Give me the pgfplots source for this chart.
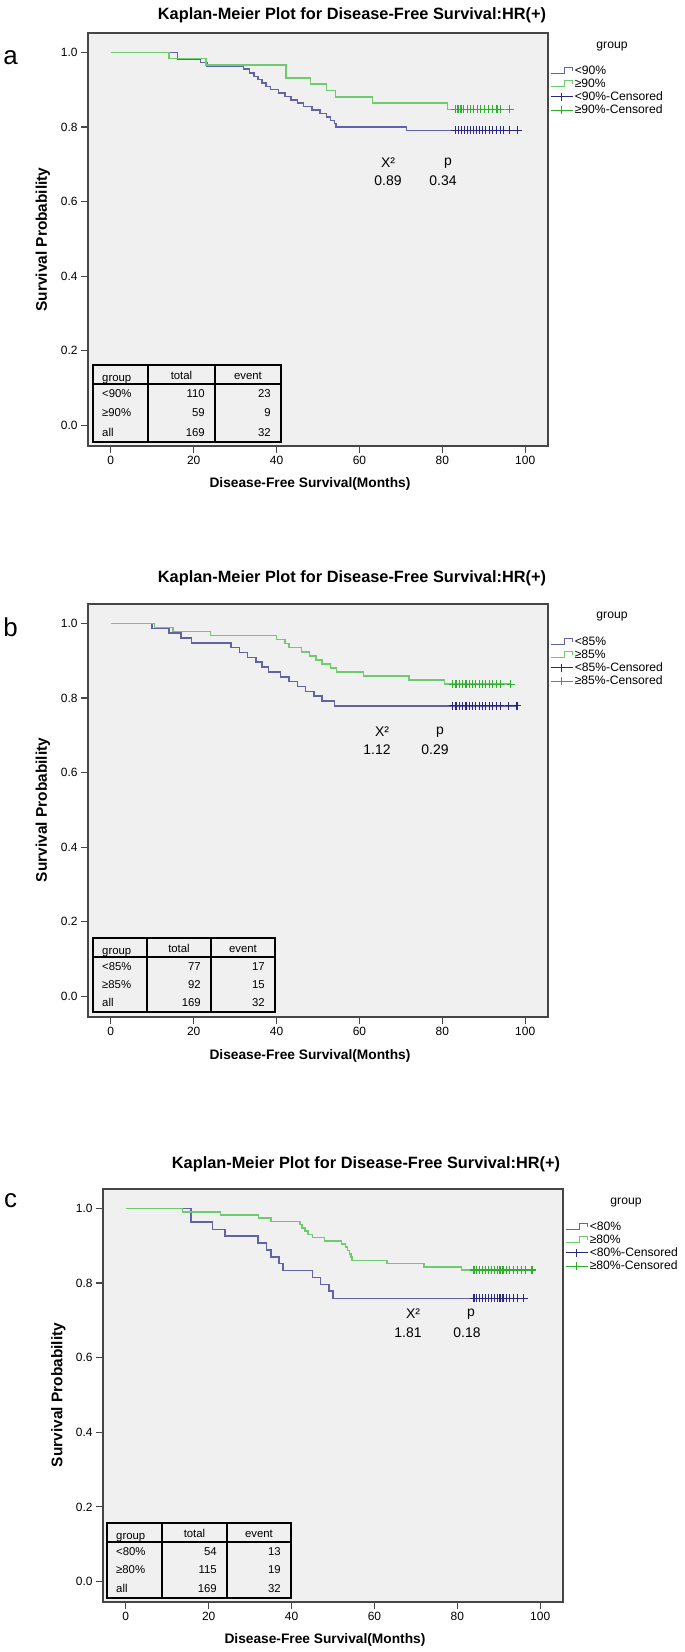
\documentclass[border=0pt]{standalone}
\usepackage{pgfplots}
\pgfplotsset{compat=1.18}
\usepackage{fontspec}
\setmainfont{Liberation Sans}
\definecolor{kmblue}{RGB}{98,98,168}
\definecolor{kmbluec}{RGB}{40,40,125}
\definecolor{kmgreen}{RGB}{110,204,110}
\definecolor{kmgreenc}{RGB}{45,175,45}
\definecolor{kmbg}{RGB}{240,240,240}
\definecolor{kmframe}{RGB}{70,70,70}
\newcommand{\fs}[1]{\fontsize{#1}{#1}\selectfont}

\pgfplotsset{
 km/.style={
  scale only axis, width=460bp, height=413bp, anchor=south west,
  xmin=-5.5, xmax=105.5, ymin=-0.055, ymax=1.052,
  axis background/.style={fill=kmbg},
  axis line style={draw=kmframe, line width=1.3bp},
  xtick={0,20,...,100}, ytick={0,0.2,0.4,0.6,0.8,1.0},
  xtick pos=bottom, ytick pos=left, tick align=outside,
  major tick length=7bp,
  every tick/.style={draw=kmframe, line width=1.2bp},
  tick label style={font=\fs{12}},
  /pgf/number format/assume math mode=true,
  yticklabel style={/pgf/number format/.cd, fixed, fixed zerofill, precision=1},
  legend cell align=left,
  legend style={at={(1,1)}, anchor=north west, xshift=2bp, yshift=-31bp,
    draw=none, fill=none, inner sep=0pt, row sep=0pt, font=\fs{12.2},
    nodes={inner sep=1.5bp}},
 },
 bl/.style={const plot, kmblue, line width=1.5bp,
   legend image code/.code={\draw[kmblue, line width=1.1bp] (0bp,-2.5bp) -- (14bp,-2.5bp) -- (14bp,3bp) -- (22bp,3bp) -- (22bp,-0.5bp);}},
 gl/.style={const plot, kmgreen, line width=1.5bp,
   legend image code/.code={\draw[kmgreen, line width=1.1bp] (0bp,-2.5bp) -- (14bp,-2.5bp) -- (14bp,3bp) -- (22bp,3bp) -- (22bp,-0.5bp);}},
 bc/.style={only marks, mark=+, mark size=4bp, kmbluec, mark options={line width=1.2bp},
   legend image code/.code={\draw[kmbluec,line width=1.1bp] (0bp,0bp)--(22bp,0bp) (11bp,-4bp)--(11bp,4bp);}},
 gc/.style={only marks, mark=+, mark size=4bp, kmgreenc, mark options={line width=1.2bp},
   legend image code/.code={\draw[kmgreenc,line width=1.1bp] (0bp,0bp)--(22bp,0bp) (11bp,-4bp)--(11bp,4bp);}},
}

\newcommand{\kmtable}[7]{%
 \def\tL{#1}\def\tA{#2}\def\tB{#3}\def\tR{#4}\def\tT{#5}\def\tH{#6}\def\tE{#7}%
 \draw[line width=2.2bp] (\tL,\tT) rectangle (\tR,\tE);
 \draw[line width=2bp] (\tL,\tH) -- (\tR,\tH);
 \draw[line width=1.8bp] (\tA,\tT) -- (\tA,\tE) (\tB,\tT) -- (\tB,\tE);
 \node[anchor=base west, inner sep=0pt, font=\fs{11.4}] at ({\tL+9},{\tH-3}) {group};
 \node[inner sep=0pt, font=\fs{11.4}] at ({(\tA+\tB)/2},{\tT+(\tH-\tT)*0.55}) {total};
 \node[inner sep=0pt, font=\fs{11.4}] at ({(\tB+\tR)/2},{\tT+(\tH-\tT)*0.55}) {event};
}
\newcommand{\kmrow}[4]{% k, name, total, event
 \node[anchor=west, inner sep=0pt, font=\fs{11.4}] at ({\tL+9},{\tH+(\tE-\tH)*(2*#1-1)/6}) {#2};
 \node[anchor=east, inner sep=0pt, font=\fs{11.4}] at ({\tB-10},{\tH+(\tE-\tH)*(2*#1-1)/6}) {#3};
 \node[anchor=east, inner sep=0pt, font=\fs{11.4}] at ({\tR-10},{\tH+(\tE-\tH)*(2*#1-1)/6}) {#4};
}

\begin{document}
\begin{tikzpicture}
\useasboundingbox (0,0) rectangle (685bp,-1652bp);

% ---------------- panel a ----------------
\begin{axis}[km, at={(88bp,-446bp)}]
\addplot[bl] coordinates {(0,1) (16.1,0.982) (21.6,0.973) (23.2,0.964) (32,0.955) (33.5,0.945) (34.5,0.936) (35.5,0.927) (36.5,0.918) (37.5,0.909) (38.5,0.900) (40.5,0.891) (42,0.882) (43.5,0.873) (45,0.864) (46.5,0.855) (48.5,0.845) (50.5,0.836) (52,0.827) (53,0.818) (54,0.809) (54.3,0.800) (71.4,0.791) (98.2,0.791)};
\addlegendentry{<90\%}
\addplot[gl] coordinates {(0,1) (14.1,0.983) (23,0.966) (42.3,0.932) (48.2,0.915) (52.1,0.898) (54.2,0.881) (63.1,0.864) (81.2,0.847) (96.3,0.847)};
\addlegendentry{≥90\%}
\addplot[bc] coordinates {(83.1,0.791) (83.9,0.791) (84.7,0.791) (85.4,0.791) (86.1,0.791) (86.8,0.791) (87.5,0.791) (88.2,0.791) (88.9,0.791) (89.7,0.791) (90.5,0.791) (91.3,0.791) (92.1,0.791) (93,0.791) (94,0.791) (94.8,0.791) (96.3,0.791) (98.2,0.791)};
\addlegendentry{<90\%-Censored}
\addplot[gc] coordinates {(83.1,0.847) (83.8,0.847) (84.5,0.847) (85.2,0.847) (86,0.847) (86.8,0.847) (87.6,0.847) (88.4,0.847) (89.3,0.847) (90.2,0.847) (91.2,0.847) (92.2,0.847) (93.2,0.847) (94,0.847) (96.3,0.847)};
\addlegendentry{≥90\%-Censored}
\end{axis}

% ---------------- panel b ----------------
\begin{axis}[km, at={(88bp,-1017bp)}]
\addplot[bl] coordinates {(0,1) (10,0.987) (14,0.974) (17,0.961) (19.5,0.948) (29,0.935) (31,0.922) (33,0.909) (35,0.896) (36.5,0.883) (38,0.870) (41,0.857) (43,0.844) (45,0.831) (47,0.818) (49,0.805) (51,0.792) (54,0.779) (98,0.779)};
\addlegendentry{<85\%}
\addplot[gl] coordinates {(0,1) (10.5,0.989) (15,0.978) (24,0.967) (40,0.957) (42,0.946) (43,0.935) (46,0.924) (48,0.913) (49.5,0.902) (51,0.891) (53,0.880) (54.5,0.870) (61,0.859) (72,0.848) (80.5,0.837) (96.5,0.837)};
\addlegendentry{≥85\%}
\addplot[bc] coordinates {(82.5,0.779) (83.3,0.779) (84.1,0.779) (84.9,0.779) (85.7,0.779) (86.5,0.779) (87.3,0.779) (88.1,0.779) (88.9,0.779) (89.7,0.779) (90.5,0.779) (91.3,0.779) (92.1,0.779) (93,0.779) (94,0.779) (96,0.779) (98,0.779)};
\addlegendentry{<85\%-Censored}
\addplot[gc] coordinates {(82.5,0.837) (83.3,0.837) (84.1,0.837) (84.9,0.837) (85.7,0.837) (86.5,0.837) (87.3,0.837) (88.1,0.837) (88.9,0.837) (89.7,0.837) (90.5,0.837) (91.3,0.837) (92.2,0.837) (93.1,0.837) (94,0.837) (96.5,0.837)};
\addlegendentry{≥85\%-Censored}
\end{axis}

% ---------------- panel c ----------------
\begin{axis}[km, at={(103bp,-1602bp)}]
\addplot[bl] coordinates {(0,1) (15.7,0.963) (20.9,0.944) (23.9,0.926) (31.9,0.907) (33.9,0.889) (35,0.870) (37,0.852) (37.9,0.833) (45,0.815) (47,0.796) (49,0.778) (50,0.759) (96,0.759)};
\addlegendentry{<80\%}
\addplot[gl] coordinates {(0,1) (13.7,0.991) (22.9,0.983) (32,0.974) (35,0.965) (42,0.957) (42.5,0.948) (43.3,0.939) (44,0.930) (45,0.922) (48,0.913) (52,0.904) (53,0.896) (53.5,0.887) (54,0.878) (54.3,0.870) (54.6,0.861) (63,0.852) (72,0.843) (81,0.835) (98,0.835)};
\addlegendentry{≥80\%}
\addplot[bc] coordinates {(84,0.759) (84.7,0.759) (85.4,0.759) (86.1,0.759) (86.8,0.759) (87.5,0.759) (88.2,0.759) (88.9,0.759) (89.6,0.759) (90.3,0.759) (91,0.759) (91.8,0.759) (92.6,0.759) (93.5,0.759) (94.5,0.759) (96,0.759)};
\addlegendentry{<80\%-Censored}
\addplot[gc] coordinates {(84,0.835) (84.7,0.835) (85.4,0.835) (86.1,0.835) (86.8,0.835) (87.5,0.835) (88.2,0.835) (88.9,0.835) (89.6,0.835) (90.3,0.835) (91,0.835) (91.8,0.835) (92.6,0.835) (93.5,0.835) (94.5,0.835) (95.5,0.835) (96.5,0.835) (98,0.835)};
\addlegendentry{≥80\%-Censored}
\end{axis}

\begin{scope}[x=1bp, y=-1bp]
% titles, labels
\foreach \ty/\cx in {15/352, 578/352, 1164/366} {
  \node[font=\bfseries\fs{16.4}] at (\cx,\ty) {Kaplan-Meier Plot for Disease-Free Survival:HR(+)};
}
\node[font=\bfseries\fs{13.8}] at (310,484) {Disease-Free Survival(Months)};
\node[font=\bfseries\fs{13.8}] at (310,1056) {Disease-Free Survival(Months)};
\node[font=\bfseries\fs{13.8}] at (325,1640) {Disease-Free Survival(Months)};
\node[font=\bfseries\fs{15.5}, rotate=90] at (43,239.5) {Survival Probability};
\node[font=\bfseries\fs{15.5}, rotate=90] at (43,810) {Survival Probability};
\node[font=\bfseries\fs{15.5}, rotate=90] at (58.5,1395) {Survival Probability};
\node[font=\fs{26}] at (10.5,58) {a};
\node[font=\fs{26}] at (10.5,627) {b};
\node[font=\fs{26}] at (10.5,1201) {c};
\node[font=\fs{12.2}] at (612,46) {group};
\node[font=\fs{12.2}] at (612,616) {group};
\node[font=\fs{12.2}] at (626,1202) {group};
% chi-square
\node[font=\fs{14}] at (388,163) {X²};
\node[font=\fs{14}] at (448,163) {p};
\node[font=\fs{14}] at (388,181) {0.89};
\node[font=\fs{14}] at (443,181) {0.34};
\node[font=\fs{14}] at (382,732) {X²};
\node[font=\fs{14}] at (440,732) {p};
\node[font=\fs{14}] at (377,750) {1.12};
\node[font=\fs{14}] at (435,750) {0.29};
\node[font=\fs{14}] at (413,1314) {X²};
\node[font=\fs{14}] at (471,1314) {p};
\node[font=\fs{14}] at (408,1333) {1.81};
\node[font=\fs{14}] at (467,1333) {0.18};
% tables
\kmtable{93}{148}{215}{281}{365}{384}{442}
\kmrow{1}{<90\%}{110}{23}\kmrow{2}{≥90\%}{59}{9}\kmrow{3}{all}{169}{32}
\kmtable{93}{147}{211}{275}{938}{957}{1012}
\kmrow{1}{<85\%}{77}{17}\kmrow{2}{≥85\%}{92}{15}\kmrow{3}{all}{169}{32}
\kmtable{107}{162}{227}{291}{1523}{1542}{1598}
\kmrow{1}{<80\%}{54}{13}\kmrow{2}{≥80\%}{115}{19}\kmrow{3}{all}{169}{32}
\end{scope}
\end{tikzpicture}
\end{document}
